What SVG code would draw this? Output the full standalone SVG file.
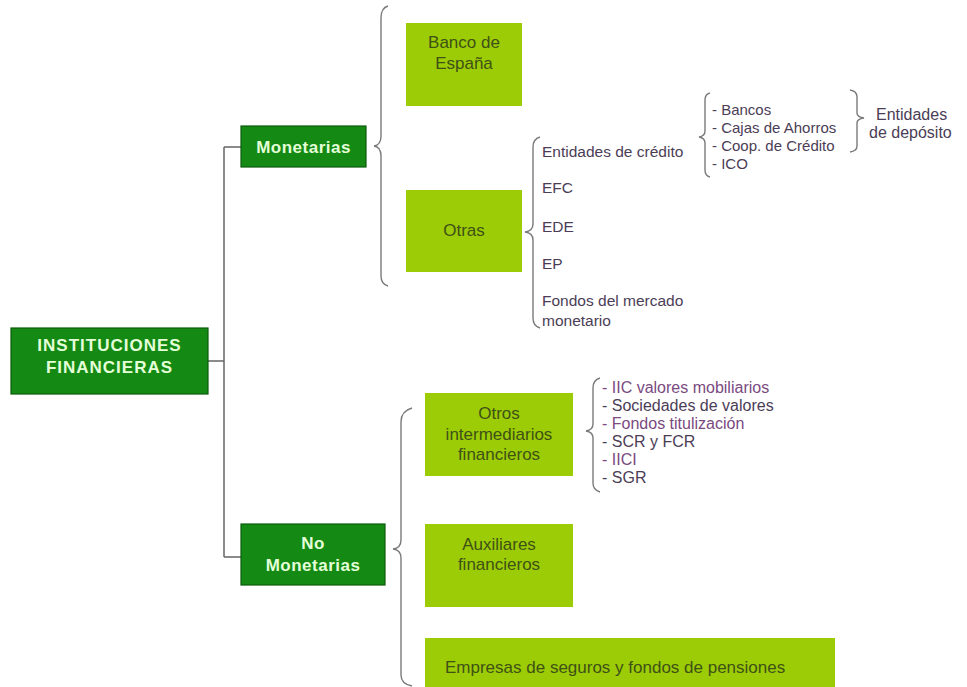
<svg xmlns="http://www.w3.org/2000/svg" width="967" height="687" viewBox="0 0 967 687">
<style>
.dk{fill:#148a14;stroke:#0b5c0b;stroke-width:1.2}
.lt{fill:#9bcc05}
.dt{font-family:"Liberation Sans",Arial,sans-serif;font-weight:bold;font-size:17px;fill:#e4ffd8;text-anchor:middle}
.bt{font-family:"Liberation Sans",Arial,sans-serif;font-size:17px;fill:#3f5116;text-anchor:middle}
.li{font-family:"Liberation Sans",Arial,sans-serif;font-size:15.5px;fill:#4b3d56}
.pu{fill:#7a4a80}
.br{fill:none;stroke:#7a7a7a;stroke-width:1.4}
.cn{fill:none;stroke:#666;stroke-width:1.5}
</style>
<rect width="967" height="687" fill="#fff"/>
<g id="connectors">
<path class="cn" d="M208,361 H224 M224,147 V557 M224,147 H241 M224,557 H241"/>
</g>
<g id="braces">
<path class="br" d="M388,6 Q381,8 381,18 L381,136 Q381,145 374,146 Q381,147 381,156 L381,276 Q381,284 388,286"/>
<path class="br" d="M540,137 Q533,139 533,147 L533,224 Q533,231 525,232 Q533,233 533,240 L533,318 Q533,326 540,328"/>
<path class="br" d="M710,93 Q705,94 705,100 L705,131 Q705,136 699,137 Q705,138 705,143 L705,170 Q705,176 710,177"/>
<path class="br" d="M850,90 Q857,91 857,97 L857,113 Q857,117 864,118 Q857,119 857,123 L857,146 Q857,151 850,152"/>
<path class="br" d="M412,408 Q401,411 401,422 L401,540 Q401,548 393,549 Q401,550 401,558 L401,675 Q401,684 412,686"/>
<path class="br" d="M600,378 Q593,380 593,388 L593,424 Q593,430 586,431 Q593,432 593,438 L593,483 Q593,490 600,492"/>
</g>
<g id="n-instituciones">
<rect class="dk" x="11" y="328" width="197" height="66"/>
<text class="dt" x="109.5" y="351" letter-spacing="1">INSTITUCIONES</text>
<text class="dt" x="109.5" y="373" letter-spacing="1">FINANCIERAS</text>
</g>
<g id="n-monetarias">
<rect class="dk" x="241" y="126" width="125" height="41"/>
<text class="dt" x="303.5" y="153" letter-spacing="0.5">Monetarias</text>
</g>
<g id="n-nomonetarias">
<rect class="dk" x="241" y="524" width="144" height="61"/>
<text class="dt" x="313" y="549" letter-spacing="0.5">No</text>
<text class="dt" x="313" y="571" letter-spacing="0.5">Monetarias</text>
</g>
<g id="n-banco">
<rect class="lt" x="406" y="23" width="116" height="83"/>
<text class="bt" x="464" y="48">Banco de</text>
<text class="bt" x="464" y="69">España</text>
</g>
<g id="n-otras">
<rect class="lt" x="406" y="190" width="116" height="82"/>
<text class="bt" x="464" y="236">Otras</text>
</g>
<g id="n-otros">
<rect class="lt" x="425" y="393" width="148" height="83"/>
<text class="bt" x="499" y="419">Otros</text>
<text class="bt" x="499" y="440">intermediarios</text>
<text class="bt" x="499" y="460">financieros</text>
</g>
<g id="n-auxiliares">
<rect class="lt" x="425" y="524" width="148" height="83"/>
<text class="bt" x="499" y="550">Auxiliares</text>
<text class="bt" x="499" y="570">financieros</text>
</g>
<g id="n-empresas">
<rect class="lt" x="425" y="638" width="410" height="49"/>
<text class="bt" x="445" y="673" text-anchor="start" style="text-anchor:start">Empresas de seguros y fondos de pensiones</text>
</g>
<g id="n-otras-list">
<text class="li" x="542" y="157">Entidades de crédito</text>
<text class="li" x="542" y="193">EFC</text>
<text class="li" x="542" y="232">EDE</text>
<text class="li" x="542" y="269">EP</text>
<text class="li" x="542" y="306">Fondos del mercado</text>
<text class="li" x="542" y="326">monetario</text>
</g>
<g id="n-credito-list">
<text class="li" x="712" y="115" style="font-size:15px">- Bancos</text>
<text class="li" x="712" y="133" style="font-size:15px">- Cajas  de Ahorros</text>
<text class="li" x="712" y="151" style="font-size:15px">- Coop. de Crédito</text>
<text class="li" x="712" y="169" style="font-size:15px">- ICO</text>
</g>
<g id="n-deposito">
<text class="li" x="876" y="120" style="font-size:16px">Entidades</text>
<text class="li" x="869" y="138" style="font-size:16px">de depósito</text>
</g>
<g id="n-oif-list">
<text class="li pu" x="602" y="393" style="font-size:16px">- IIC  valores mobiliarios</text>
<text class="li" x="602" y="411" style="font-size:16px">- Sociedades de valores</text>
<text class="li pu" x="602" y="429" style="font-size:16px">- Fondos titulización</text>
<text class="li" x="602" y="447" style="font-size:16px">- SCR y FCR</text>
<text class="li pu" x="602" y="465" style="font-size:16px">- IICI</text>
<text class="li" x="602" y="483" style="font-size:16px">- SGR</text>
</g>
</svg>
